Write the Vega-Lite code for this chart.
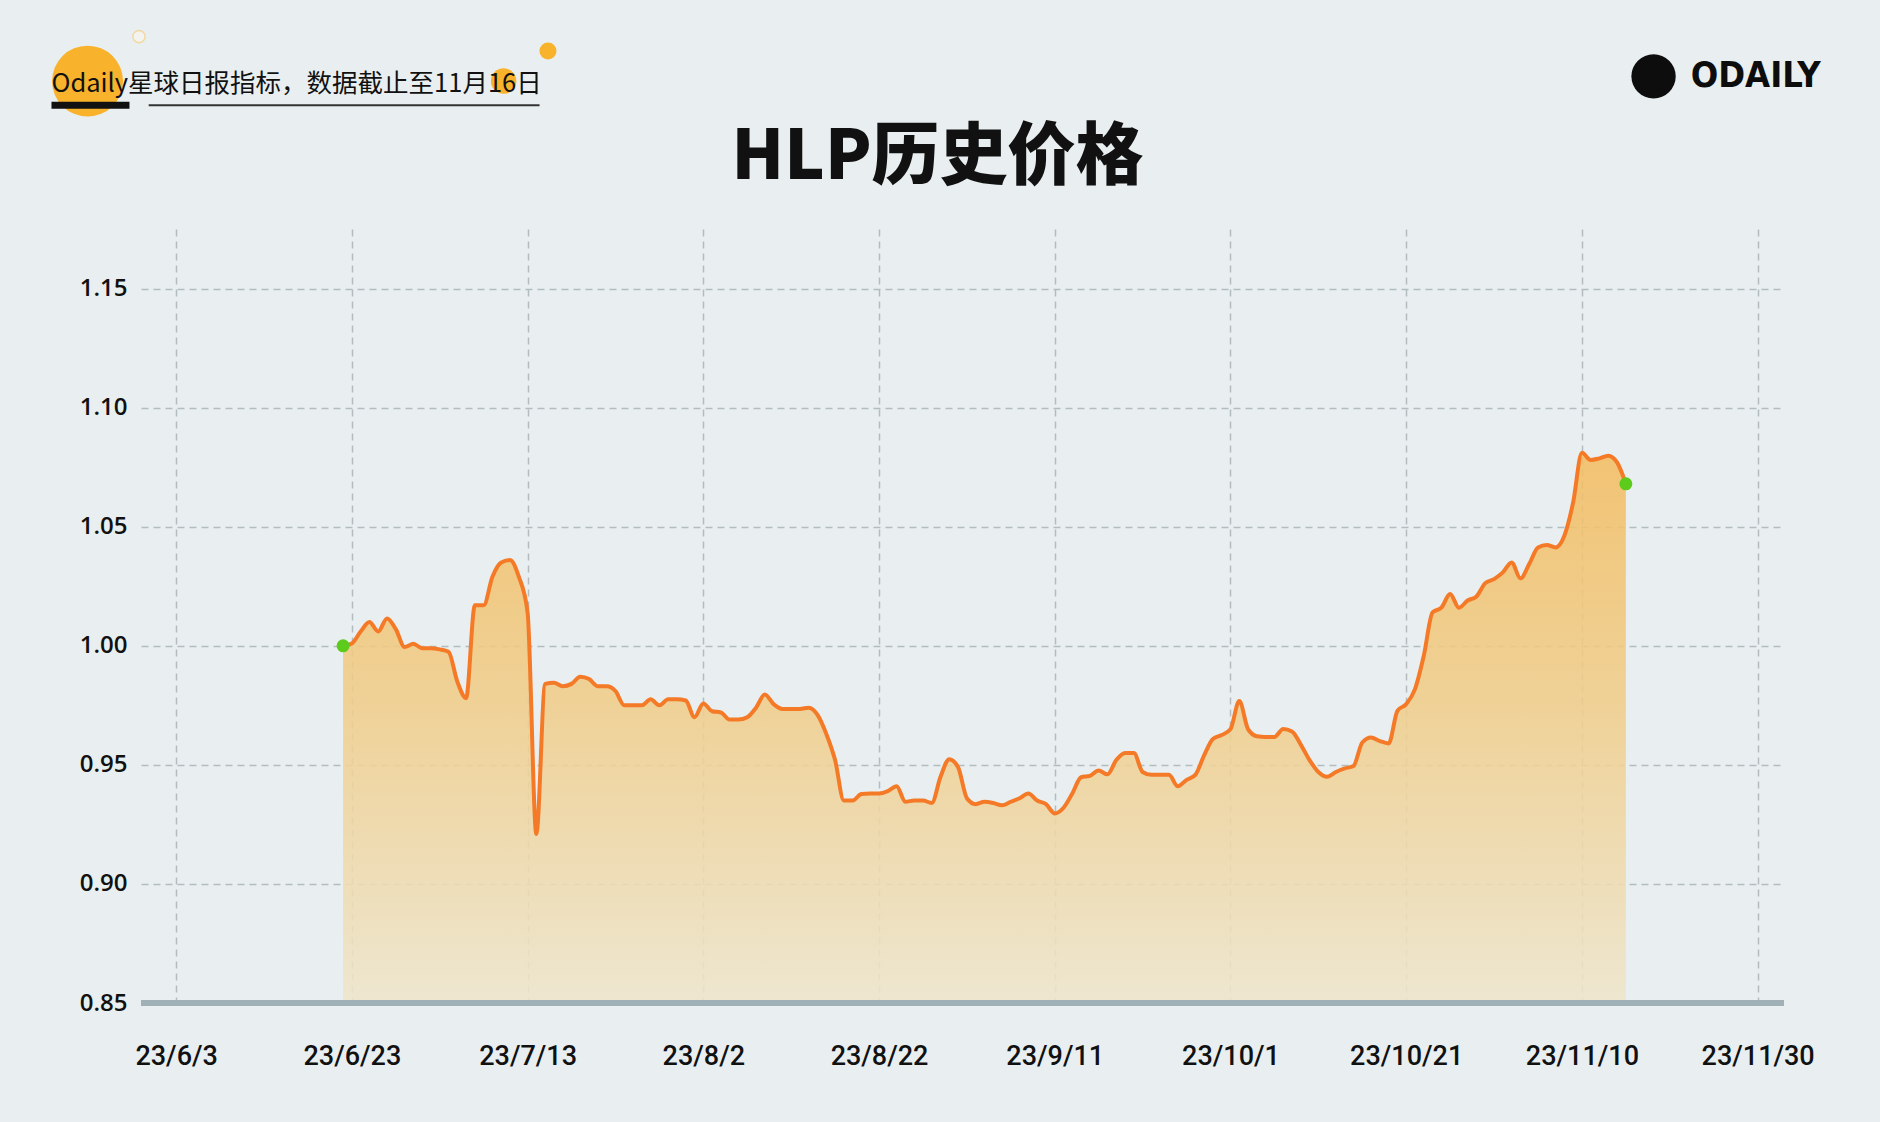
{
  "$schema": "https://vega.github.io/schema/vega-lite/v6.json",
  "width": 1643,
  "height": 774,
  "autosize": {"type": "none"},
  "padding": {"left": 141, "top": 229, "right": 96, "bottom": 119},
  "background": "#e9eff0",
  "datasets": {
    "price": [
      {"date": "2023-06-22", "value": 1.000},
      {"date": "2023-06-23", "value": 1.001},
      {"date": "2023-06-24", "value": 1.006},
      {"date": "2023-06-25", "value": 1.010},
      {"date": "2023-06-26", "value": 1.006},
      {"date": "2023-06-27", "value": 1.0115},
      {"date": "2023-06-28", "value": 1.007},
      {"date": "2023-06-29", "value": 0.9995},
      {"date": "2023-06-30", "value": 1.0008},
      {"date": "2023-07-01", "value": 0.999},
      {"date": "2023-07-02", "value": 0.999},
      {"date": "2023-07-03", "value": 0.9985},
      {"date": "2023-07-04", "value": 0.9975},
      {"date": "2023-07-05", "value": 0.985},
      {"date": "2023-07-06", "value": 0.978},
      {"date": "2023-07-07", "value": 1.017},
      {"date": "2023-07-08", "value": 1.017},
      {"date": "2023-07-09", "value": 1.029},
      {"date": "2023-07-10", "value": 1.035},
      {"date": "2023-07-11", "value": 1.036},
      {"date": "2023-07-12", "value": 1.029},
      {"date": "2023-07-13", "value": 1.014},
      {"date": "2023-07-14", "value": 0.921},
      {"date": "2023-07-15", "value": 0.984},
      {"date": "2023-07-16", "value": 0.9845},
      {"date": "2023-07-17", "value": 0.983},
      {"date": "2023-07-18", "value": 0.984},
      {"date": "2023-07-19", "value": 0.987},
      {"date": "2023-07-20", "value": 0.986},
      {"date": "2023-07-21", "value": 0.983},
      {"date": "2023-07-22", "value": 0.983},
      {"date": "2023-07-23", "value": 0.981},
      {"date": "2023-07-24", "value": 0.975},
      {"date": "2023-07-25", "value": 0.975},
      {"date": "2023-07-26", "value": 0.975},
      {"date": "2023-07-27", "value": 0.9775},
      {"date": "2023-07-28", "value": 0.975},
      {"date": "2023-07-29", "value": 0.9775},
      {"date": "2023-07-30", "value": 0.9775},
      {"date": "2023-07-31", "value": 0.977},
      {"date": "2023-08-01", "value": 0.970},
      {"date": "2023-08-02", "value": 0.9758},
      {"date": "2023-08-03", "value": 0.9725},
      {"date": "2023-08-04", "value": 0.972},
      {"date": "2023-08-05", "value": 0.969},
      {"date": "2023-08-06", "value": 0.969},
      {"date": "2023-08-07", "value": 0.970},
      {"date": "2023-08-08", "value": 0.974},
      {"date": "2023-08-09", "value": 0.9795},
      {"date": "2023-08-10", "value": 0.9755},
      {"date": "2023-08-11", "value": 0.9735},
      {"date": "2023-08-12", "value": 0.9735},
      {"date": "2023-08-13", "value": 0.9735},
      {"date": "2023-08-14", "value": 0.974},
      {"date": "2023-08-15", "value": 0.971},
      {"date": "2023-08-16", "value": 0.963},
      {"date": "2023-08-17", "value": 0.952},
      {"date": "2023-08-18", "value": 0.935},
      {"date": "2023-08-19", "value": 0.935},
      {"date": "2023-08-20", "value": 0.9378},
      {"date": "2023-08-21", "value": 0.938},
      {"date": "2023-08-22", "value": 0.938},
      {"date": "2023-08-23", "value": 0.939},
      {"date": "2023-08-24", "value": 0.941},
      {"date": "2023-08-25", "value": 0.9345},
      {"date": "2023-08-26", "value": 0.935},
      {"date": "2023-08-27", "value": 0.935},
      {"date": "2023-08-28", "value": 0.934},
      {"date": "2023-08-29", "value": 0.945},
      {"date": "2023-08-30", "value": 0.9524},
      {"date": "2023-08-31", "value": 0.949},
      {"date": "2023-09-01", "value": 0.936},
      {"date": "2023-09-02", "value": 0.9335},
      {"date": "2023-09-03", "value": 0.9345},
      {"date": "2023-09-04", "value": 0.934},
      {"date": "2023-09-05", "value": 0.933},
      {"date": "2023-09-06", "value": 0.9345},
      {"date": "2023-09-07", "value": 0.936},
      {"date": "2023-09-08", "value": 0.938},
      {"date": "2023-09-09", "value": 0.935},
      {"date": "2023-09-10", "value": 0.9335},
      {"date": "2023-09-11", "value": 0.9296},
      {"date": "2023-09-12", "value": 0.932},
      {"date": "2023-09-13", "value": 0.938},
      {"date": "2023-09-14", "value": 0.9448},
      {"date": "2023-09-15", "value": 0.9454},
      {"date": "2023-09-16", "value": 0.9476},
      {"date": "2023-09-17", "value": 0.946},
      {"date": "2023-09-18", "value": 0.952},
      {"date": "2023-09-19", "value": 0.955},
      {"date": "2023-09-20", "value": 0.955},
      {"date": "2023-09-21", "value": 0.947},
      {"date": "2023-09-22", "value": 0.9458},
      {"date": "2023-09-23", "value": 0.9458},
      {"date": "2023-09-24", "value": 0.9458},
      {"date": "2023-09-25", "value": 0.941},
      {"date": "2023-09-26", "value": 0.9437},
      {"date": "2023-09-27", "value": 0.9458},
      {"date": "2023-09-28", "value": 0.954},
      {"date": "2023-09-29", "value": 0.9609},
      {"date": "2023-09-30", "value": 0.9625},
      {"date": "2023-10-01", "value": 0.965},
      {"date": "2023-10-02", "value": 0.9768},
      {"date": "2023-10-03", "value": 0.965},
      {"date": "2023-10-04", "value": 0.962},
      {"date": "2023-10-05", "value": 0.9617},
      {"date": "2023-10-06", "value": 0.9617},
      {"date": "2023-10-07", "value": 0.965},
      {"date": "2023-10-08", "value": 0.964},
      {"date": "2023-10-09", "value": 0.9585},
      {"date": "2023-10-10", "value": 0.952},
      {"date": "2023-10-11", "value": 0.947},
      {"date": "2023-10-12", "value": 0.945},
      {"date": "2023-10-13", "value": 0.947},
      {"date": "2023-10-14", "value": 0.9485},
      {"date": "2023-10-15", "value": 0.9495},
      {"date": "2023-10-16", "value": 0.9594},
      {"date": "2023-10-17", "value": 0.9615},
      {"date": "2023-10-18", "value": 0.960},
      {"date": "2023-10-19", "value": 0.959},
      {"date": "2023-10-20", "value": 0.9727},
      {"date": "2023-10-21", "value": 0.9755},
      {"date": "2023-10-22", "value": 0.9818},
      {"date": "2023-10-23", "value": 0.9958},
      {"date": "2023-10-24", "value": 1.014},
      {"date": "2023-10-25", "value": 1.016},
      {"date": "2023-10-26", "value": 1.0217},
      {"date": "2023-10-27", "value": 1.016},
      {"date": "2023-10-28", "value": 1.019},
      {"date": "2023-10-29", "value": 1.0207},
      {"date": "2023-10-30", "value": 1.0263},
      {"date": "2023-10-31", "value": 1.028},
      {"date": "2023-11-01", "value": 1.0308},
      {"date": "2023-11-02", "value": 1.035},
      {"date": "2023-11-03", "value": 1.0283},
      {"date": "2023-11-04", "value": 1.0343},
      {"date": "2023-11-05", "value": 1.0413},
      {"date": "2023-11-06", "value": 1.0423},
      {"date": "2023-11-07", "value": 1.0413},
      {"date": "2023-11-08", "value": 1.0462},
      {"date": "2023-11-09", "value": 1.0602},
      {"date": "2023-11-10", "value": 1.081},
      {"date": "2023-11-11", "value": 1.078},
      {"date": "2023-11-12", "value": 1.0787},
      {"date": "2023-11-13", "value": 1.0798},
      {"date": "2023-11-14", "value": 1.077},
      {"date": "2023-11-15", "value": 1.068}
    ],
    "endpoints": [
      {"date": "2023-06-22", "value": 1.000},
      {"date": "2023-11-15", "value": 1.068}
    ],
    "decor": [
      {"kind": "bigdot", "date": "2023-05-23T22:00Z", "value": 1.2371},
      {"kind": "dot16", "date": "2023-07-10T06:30Z", "value": 1.2371},
      {"kind": "smalldot", "date": "2023-07-15T07:40Z", "value": 1.2497},
      {"kind": "ring", "date": "2023-05-29T18:30Z", "value": 1.2558},
      {"kind": "thick", "date": "2023-05-19T19:30Z", "date2": "2023-05-28T16:30Z", "value": 1.2270},
      {"kind": "thin", "date": "2023-05-30T21:00Z", "date2": "2023-07-14T08:40Z", "value": 1.2270},
      {"kind": "header", "date": "2023-05-19T19:30Z", "value": 1.2358, "label": "Odaily星球日报指标，数据截止至11月16日"},
      {"kind": "title", "date": "2023-08-28T16:00Z", "value": 1.2045, "label": "HLP历史价格"},
      {"kind": "logo", "date": "2023-11-18T03:40Z", "value": 1.2391},
      {"kind": "brand", "date": "2023-11-22T09:00Z", "value": 1.2391, "label": "ODAILY"}
    ]
  },
  "encoding": {
    "x": {
      "field": "date",
      "type": "temporal",
      "scale": {
        "type": "utc",
        "nice": false,
        "domain": [
          {"year": 2023, "month": 5, "date": 30, "utc": true},
          {"year": 2023, "month": 12, "date": 3, "utc": true}
        ]
      },
      "axis": {
        "title": null,
        "format": "%y/%-m/%-d",
        "values": [
          {"year": 2023, "month": 6, "date": 3, "utc": true},
          {"year": 2023, "month": 6, "date": 23, "utc": true},
          {"year": 2023, "month": 7, "date": 13, "utc": true},
          {"year": 2023, "month": 8, "date": 2, "utc": true},
          {"year": 2023, "month": 8, "date": 22, "utc": true},
          {"year": 2023, "month": 9, "date": 11, "utc": true},
          {"year": 2023, "month": 10, "date": 1, "utc": true},
          {"year": 2023, "month": 10, "date": 21, "utc": true},
          {"year": 2023, "month": 11, "date": 10, "utc": true},
          {"year": 2023, "month": 11, "date": 30, "utc": true}
        ],
        "grid": true,
        "gridColor": "#b3bcc0",
        "gridDash": [7, 5],
        "gridWidth": 1.5,
        "domain": false,
        "ticks": false,
        "labelPadding": 40,
        "labelFont": "Roboto",
        "labelFontSize": 27,
        "labelFontWeight": 500,
        "labelColor": "#111111",
        "labelFlush": false
      }
    },
    "y": {
      "field": "value",
      "type": "quantitative",
      "scale": {"domain": [0.85, 1.175], "nice": false, "zero": false},
      "axis": {
        "title": null,
        "values": [0.85, 0.9, 0.95, 1.0, 1.05, 1.1, 1.15],
        "format": ".2f",
        "grid": true,
        "gridColor": "#b3bcc0",
        "gridDash": [7, 5],
        "gridWidth": 1.5,
        "domain": false,
        "ticks": false,
        "labelPadding": 14,
        "labelFont": "Open Sans",
        "labelFontSize": 24,
        "labelFontWeight": 600,
        "labelColor": "#111111"
      }
    }
  },
  "layer": [
    {
      "data": {"name": "price"},
      "mark": {
        "type": "area",
        "interpolate": "monotone",
        "fillOpacity": 0.88,
        "fill": {
          "gradient": "linear",
          "x1": 0, "y1": 0, "x2": 0, "y2": 1,
          "stops": [
            {"offset": 0, "color": "#f3bd62"},
            {"offset": 0.45, "color": "#f0cd8a"},
            {"offset": 1, "color": "#eee5cb"}
          ]
        }
      },
      "encoding": {"y2": {"datum": 0.85}}
    },
    {
      "data": {"name": "price"},
      "mark": {"type": "line", "interpolate": "monotone", "color": "#f47a28", "strokeWidth": 4},
      "encoding": {}
    },
    {
      "data": {"name": "price"},
      "mark": {"type": "rule", "color": "#9fb0b6", "strokeWidth": 5},
      "encoding": {"x": null, "y": {"datum": 0.85}}
    },
    {
      "data": {"name": "endpoints"},
      "mark": {"type": "circle", "color": "#5ccb1c", "size": 170, "opacity": 1},
      "encoding": {}
    },
    {
      "data": {"name": "decor"},
      "transform": [{"filter": "datum.kind == 'bigdot'"}],
      "mark": {"type": "circle", "color": "#f8b22c", "size": 5030, "opacity": 1},
      "encoding": {}
    },
    {
      "data": {"name": "decor"},
      "transform": [{"filter": "datum.kind == 'dot16'"}],
      "mark": {"type": "circle", "color": "#f8b22c", "size": 650, "opacity": 1},
      "encoding": {}
    },
    {
      "data": {"name": "decor"},
      "transform": [{"filter": "datum.kind == 'smalldot'"}],
      "mark": {"type": "circle", "color": "#f8b22c", "size": 290, "opacity": 1},
      "encoding": {}
    },
    {
      "data": {"name": "decor"},
      "transform": [{"filter": "datum.kind == 'ring'"}],
      "mark": {"type": "point", "shape": "circle", "stroke": "#f3d7a3", "fill": "#f3f4ef", "filled": false, "strokeWidth": 1.5, "size": 150, "opacity": 1},
      "encoding": {}
    },
    {
      "data": {"name": "decor"},
      "transform": [{"filter": "datum.kind == 'thick'"}],
      "mark": {"type": "rule", "color": "#111111", "strokeWidth": 7},
      "encoding": {"x2": {"field": "date2"}}
    },
    {
      "data": {"name": "decor"},
      "transform": [{"filter": "datum.kind == 'thin'"}],
      "mark": {"type": "rule", "color": "#333333", "strokeWidth": 2},
      "encoding": {"x2": {"field": "date2"}}
    },
    {
      "data": {"name": "decor"},
      "transform": [{"filter": "datum.kind == 'header'"}],
      "mark": {"type": "text", "align": "left", "baseline": "middle", "font": "Noto Sans CJK SC", "fontSize": 25.5, "color": "#111111"},
      "encoding": {"text": {"field": "label"}}
    },
    {
      "data": {"name": "decor"},
      "transform": [{"filter": "datum.kind == 'title'"}],
      "mark": {"type": "text", "align": "center", "baseline": "middle", "font": "Noto Sans CJK SC", "fontSize": 68, "fontWeight": 900, "color": "#111111"},
      "encoding": {"text": {"field": "label"}}
    },
    {
      "data": {"name": "decor"},
      "transform": [{"filter": "datum.kind == 'logo'"}],
      "mark": {"type": "circle", "color": "#0d0d0d", "size": 1963, "opacity": 1},
      "encoding": {}
    },
    {
      "data": {"name": "decor"},
      "transform": [{"filter": "datum.kind == 'brand'"}],
      "mark": {"type": "text", "align": "left", "baseline": "middle", "font": "DejaVu Sans Condensed, Liberation Sans Narrow, sans-serif", "fontSize": 36, "fontWeight": "bold", "color": "#0d0d0d"},
      "encoding": {"text": {"field": "label"}}
    }
  ],
  "config": {
    "view": {"stroke": null}
  }
}
